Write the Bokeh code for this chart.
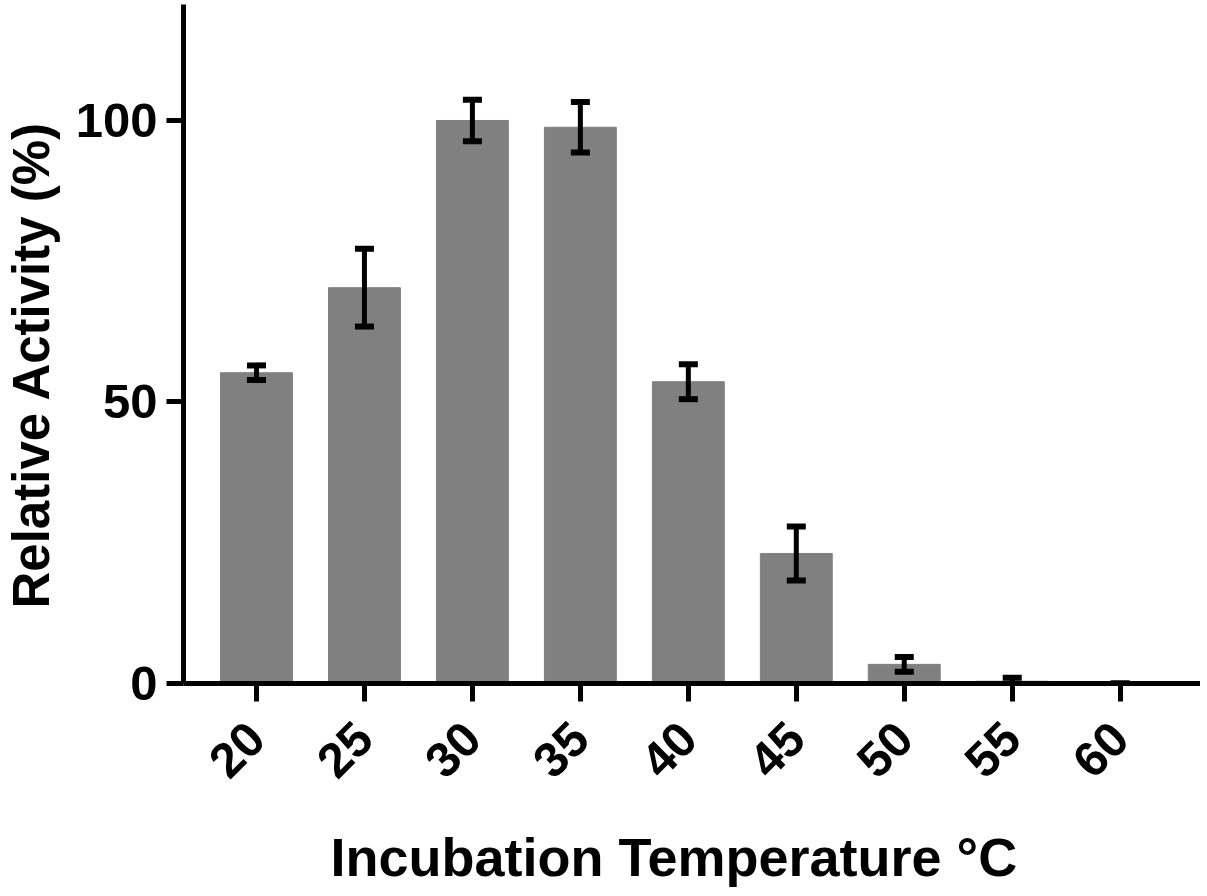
import math
from bokeh.plotting import figure
from bokeh.models import (Range1d, FixedTicker, Whisker, TeeHead, ColumnDataSource,
                          Title, LinearAxis)
from bokeh.embed import file_html
from bokeh.resources import INLINE

temps = [20, 25, 30, 35, 40, 45, 50, 55, 60]
activity = [55.2, 70.3, 100.0, 98.8, 53.6, 23.1, 3.4, 0.4, 0.0]
errors = [1.3, 6.9, 3.7, 4.5, 3.1, 4.8, 1.3, 0.6, 0.0]
y_ticks = [0, 50, 100]
x_title = "Incubation Temperature °C"
y_title = "Relative Activity (%)"

FONT = "Liberation Sans"

src = ColumnDataSource(dict(
    x=temps, y=activity,
    upper=[a + e for a, e in zip(activity, errors)],
    lower=[a - e for a, e in zip(activity, errors)],
))

p = figure(width=1200, height=896,
           x_range=Range1d(16.62, 63.72), y_range=Range1d(0, 120.6),
           output_backend="svg", toolbar_location=None,
           min_border_left=181, min_border_right=0,
           min_border_top=4, min_border_bottom=213)

p.vbar(x="x", top="y", bottom=0, width=3.33, source=src,
       fill_color="#808080", line_color="#808080")

w = Whisker(base="x", upper="upper", lower="lower", source=src,
            dimension="height", line_color="black", line_width=5,
            level="overlay",
            upper_head=TeeHead(size=19, line_width=6, line_color="black"),
            lower_head=TeeHead(size=19, line_width=6, line_color="black"))
p.add_layout(w)

p.grid.visible = False
p.outline_line_color = None
p.background_fill_color = "white"

for ax in (p.xaxis[0], p.yaxis[0]):
    ax.axis_line_width = 5
    ax.axis_line_color = "black"
    ax.major_tick_line_width = 5
    ax.major_tick_line_color = "black"
    ax.major_tick_in = 0
    ax.minor_tick_line_color = None
    ax.major_label_text_font = FONT
    ax.major_label_text_font_style = "bold"
    ax.major_label_text_font_size = "49px"
    ax.major_label_text_color = "black"

p.xaxis.ticker = FixedTicker(ticks=temps)
p.xaxis.major_tick_out = 18
p.xaxis.major_label_orientation = math.pi / 4
p.xaxis.major_label_standoff = 29

p.yaxis.ticker = FixedTicker(ticks=y_ticks)
p.yaxis.major_tick_out = 17
p.yaxis.major_label_standoff = 9


def spacer(size, tick):
    # invisible axis used only to reserve room between tick labels and title
    return LinearAxis(ticker=FixedTicker(ticks=[tick]), axis_line_color=None,
                      major_tick_line_color="white", major_tick_line_width=1,
                      minor_tick_line_color=None,
                      major_tick_in=0, major_tick_out=size, minor_tick_out=0,
                      major_label_standoff=0, major_label_text_font_size="1px",
                      major_label_text_color="white",
                      major_label_overrides={tick: ""})


p.add_layout(spacer(31, temps[-1]), "below")
p.add_layout(spacer(13, y_ticks[0]), "left")

xt = Title(text=x_title, align="left", offset=147, standoff=0,
           vertical_align="top",
           text_font=FONT, text_font_style="bold", text_font_size="54px",
           text_color="black")
p.add_layout(xt, "below")

yt = Title(text=y_title, align="left", offset=75, standoff=0,
           vertical_align="bottom",
           text_font=FONT, text_font_style="bold", text_font_size="51px",
           text_color="black")
p.add_layout(yt, "left")

open("out.html", "w").write(file_html(p, INLINE))
